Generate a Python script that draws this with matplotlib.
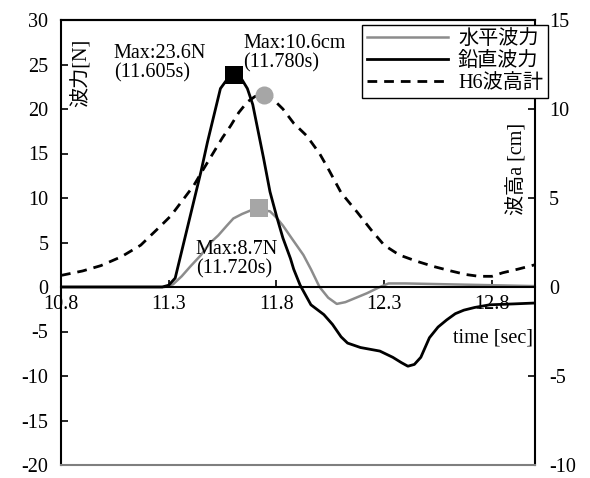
import matplotlib
matplotlib.use('Agg')
import matplotlib.pyplot as plt

# 水平波力 [N]
t_h = [10.80, 11.28, 11.32, 11.36, 11.40, 11.45, 11.49, 11.53, 11.57, 11.60, 11.64,
       11.68, 11.72, 11.77, 11.80, 11.83, 11.87, 11.925, 11.96, 12.00, 12.04, 12.08,
       12.12, 12.17, 12.22, 12.28, 12.32, 12.40, 12.60, 12.80, 13.00]
f_h = [0.0, 0.0, 0.3, 1.2, 2.3, 3.6, 4.9, 5.8, 6.9, 7.7, 8.2,
       8.6, 8.7, 8.5, 7.8, 6.9, 5.5, 3.6, 2.0, 0.0, -1.2, -1.9,
       -1.7, -1.2, -0.7, 0.0, 0.4, 0.4, 0.3, 0.2, 0.1]

# 鉛直波力 [N]
t_v = [10.80, 11.27, 11.30, 11.33, 11.356, 11.40, 11.45, 11.48, 11.51, 11.54, 11.57,
       11.605, 11.64, 11.665, 11.69, 11.71, 11.74, 11.77, 11.80, 11.83, 11.865, 11.88,
       11.91, 11.96, 12.02, 12.06, 12.10, 12.13, 12.19, 12.28, 12.34, 12.38, 12.41,
       12.44, 12.47, 12.51, 12.55, 12.59, 12.63, 12.67, 12.72, 12.79, 12.90, 13.00]
f_v = [0.0, 0.0, 0.2, 1.0, 3.6, 8.0, 13.0, 16.3, 19.3, 22.3, 23.3,
       23.6, 23.3, 22.3, 20.5, 18.1, 14.5, 10.7, 8.0, 5.5, 3.2, 2.0,
       0.2, -2.0, -3.1, -4.2, -5.6, -6.3, -6.8, -7.2, -7.9, -8.5, -8.9,
       -8.7, -7.9, -5.7, -4.5, -3.7, -3.0, -2.6, -2.3, -2.0, -1.9, -1.8]

# H6波高計 [cm]
t_w = [10.80, 10.90, 10.985, 11.08, 11.17, 11.217, 11.26, 11.31, 11.36, 11.416, 11.46,
       11.51, 11.55, 11.587, 11.625, 11.665, 11.70, 11.74, 11.78, 11.83, 11.88, 11.94,
       12.00, 12.04, 12.10, 12.175, 12.24, 12.30, 12.37, 12.45, 12.53, 12.61, 12.68,
       12.74, 12.80, 12.85, 12.92, 13.00]
h_w = [0.65, 0.9, 1.2, 1.7, 2.35, 2.9, 3.4, 4.0, 4.8, 5.7, 6.6,
       7.6, 8.4, 9.05, 9.8, 10.4, 10.7, 10.8, 10.6, 10.0, 9.2, 8.5,
       7.5, 6.65, 5.3, 4.2, 3.2, 2.35, 1.8, 1.45, 1.15, 0.9, 0.7,
       0.6, 0.6, 0.8, 1.0, 1.25]

# maxima markers
max_v = (11.605, 23.8)
max_h = (11.72, 8.9)
max_w = (11.74, 10.8)

x_ticks = [10.8, 11.3, 11.8, 12.3, 12.8]
x_labels = ['10.8', '11.3', '11.8', '12.3', '12.8']
y1_ticks = [-20, -15, -10, -5, 0, 5, 10, 15, 20, 25, 30]
y2_ticks = [-10, -5, 0, 5, 10, 15]

plt.rcParams['font.family'] = ['Liberation Serif', 'Noto Sans CJK JP']
plt.rcParams['font.size'] = 14.5
plt.rcParams['axes.unicode_minus'] = False

fig = plt.figure(figsize=(5.9, 4.78), dpi=100)
ax = fig.add_axes([61/590, 13/478, 474/590, 445/478])
ax2 = ax.twinx()

gray = '#8c8c8c'
l1, = ax.plot(t_h, f_h, color=gray, lw=1.8, label='水平波力')
l2, = ax.plot(t_v, f_v, color='black', lw=2, label='鉛直波力')
l3, = ax2.plot(t_w, h_w, color='black', lw=2, ls=(0, (3.5, 2.5)), label='H6波高計')

ax.plot([max_v[0]], [max_v[1]], marker='s', ms=13.5, mew=0, color='black', zorder=5)
ax.plot([max_h[0]], [max_h[1]], marker='s', ms=13.5, mew=0, color='#a6a6a6', zorder=5)
ax2.plot([max_w[0]], [max_w[1]], marker='o', ms=13, mew=0, color='#a6a6a6', zorder=5)

ax.set_xlim(10.8, 13.0)
ax.set_ylim(-20, 30)
ax2.set_ylim(-10, 15)
ax.set_xticks(x_ticks)
ax.set_xticklabels(x_labels)
ax.set_yticks(y1_ticks)
ax2.set_yticks(y2_ticks)

ax.spines['bottom'].set_position(('data', 0))
ax.spines['right'].set_visible(False)
ax2.spines['left'].set_visible(False)
ax2.spines['bottom'].set_color('#7f7f7f')
for sp in ['left', 'top', 'bottom']:
    ax.spines[sp].set_linewidth(1.5)
for sp in ['right', 'bottom', 'top']:
    ax2.spines[sp].set_linewidth(1.5)

ax.tick_params(axis='x', direction='in', length=5, width=1.2, pad=6)
ax.tick_params(axis='y', direction='in', length=5, width=1.2, pad=9)
ax2.tick_params(axis='y', direction='in', length=5, width=1.2, pad=10)

ax.text(11.045, 27.3, 'Max:23.6N\n(11.605s)', ha='left', va='top', linespacing=1.0)
ax.text(11.647, 28.4, 'Max:10.6cm\n(11.780s)', ha='left', va='top', linespacing=1.0)
ax.text(11.425, 5.3, 'Max:8.7N\n(11.720s)', ha='left', va='top', linespacing=1.0)

ax.text(10.893, 24.1, '波力[N]', rotation=90, ha='center', va='center')
ax.text(12.916, 13.3, '波高a [cm]', rotation=90, ha='center', va='center')
ax.text(12.99, -5.7, 'time [sec]', ha='right', va='center')

leg = ax2.legend(handles=[l1, l2, l3], loc='upper right',
                 bbox_to_anchor=(548/590, 1 - 25/478), bbox_transform=fig.transFigure,
                 fancybox=False, framealpha=1, edgecolor='black',
                 handlelength=4.0, handletextpad=0.5, labelspacing=0.15,
                 borderpad=0.25, borderaxespad=0)
leg.get_frame().set_linewidth(1.0)

fig.savefig('out.png', dpi=100)
